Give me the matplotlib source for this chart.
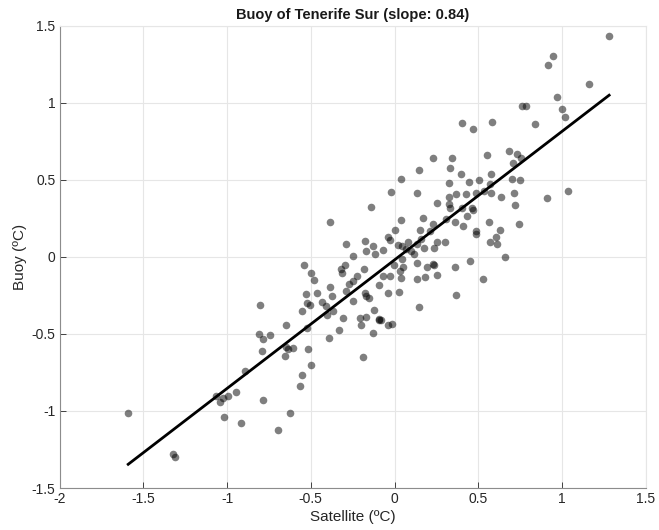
import matplotlib
matplotlib.use("Agg")
import matplotlib.pyplot as plt
import numpy as np

# ---------------------------------------------------------------------------
# Data
# ---------------------------------------------------------------------------

satellite = [
    -1.590, -0.893, -1.068, -1.042, -1.026, -0.993, -0.947, -0.784, -1.019, -0.919,
    -0.698, -1.321, -1.311, -0.554, -0.566, -0.626, -0.539, -0.501, -0.483, -0.246,
    -0.170, -0.115, -0.296, -0.321, -0.314, -0.226, -0.182, -0.274, -0.246, -0.290,
    -0.385, -0.465, -0.529, -0.375, -0.435, -0.521, -0.505, -0.411, -0.246, -0.178,
    -0.170, -0.154, -0.803, -0.553, -0.369, -0.405, -0.309, -0.122, -0.206, -0.172,
    -0.094, -0.202, -0.650, -0.524, -0.330, -0.127, -0.811, -0.784, -0.742, -0.393,
    -0.650, -0.634, -0.605, -0.515, -0.792, -0.652, -0.186, -0.499, -0.067, -0.030,
    0.033, 0.037, 0.133, 0.182, 0.252, 0.527, -0.094, -0.039, 0.029, 0.365,
    0.145, -0.090, -0.082, -0.039, -0.017, 0.228, 0.342, 0.332, 0.551, 0.148,
    0.395, 0.037, 0.327, 0.447, 0.507, -0.023, 0.136, 0.327, 0.367, 0.427,
    0.487, 0.535, -0.142, 0.256, 0.327, 0.332, 0.403, 0.461, 0.471, 0.435,
    0.563, 0.361, 0.407, 0.308, -0.385, 0.037, 0.172, 0.232, 0.005, 0.152,
    0.212, 0.485, 0.487, -0.290, -0.176, -0.130, -0.067, -0.037, -0.027, 0.023,
    0.043, 0.082, 0.099, 0.116, 0.136, 0.069, 0.176, 0.156, 0.236, 0.256,
    0.302, 0.451, 0.228, 0.236, 0.133, 0.192, 0.361, 0.043, -0.003, 0.053,
    0.915, 1.158, 0.969, 0.760, 0.786, 1.002, 1.019, 0.403, 0.584, 0.469,
    0.837, 0.686, 0.730, 0.710, 0.756, 0.578, 0.704, 0.746, 0.570, 0.575,
    0.716, 0.636, 0.909, 1.038, 0.720, 0.630, 0.740, 0.606, 0.570, 0.614,
    0.660, 1.281, 0.945,
]

buoy = [
    -1.012, -0.742, -0.904, -0.941, -0.919, -0.906, -0.880, -0.928, -1.038, -1.081,
    -1.122, -1.280, -1.296, -0.766, -0.841, -1.014, -0.052, -0.106, -0.153, 0.008,
    0.039, 0.017, -0.052, -0.080, -0.108, -0.123, -0.080, -0.177, -0.160, -0.224,
    -0.198, -0.235, -0.244, -0.257, -0.291, -0.300, -0.311, -0.322, -0.289, -0.237,
    -0.257, -0.270, -0.315, -0.350, -0.350, -0.375, -0.397, -0.345, -0.397, -0.393,
    -0.410, -0.445, -0.440, -0.462, -0.472, -0.492, -0.500, -0.531, -0.507, -0.526,
    -0.587, -0.600, -0.593, -0.600, -0.613, -0.643, -0.652, -0.699, -0.123, -0.123,
    -0.091, -0.138, -0.147, -0.129, -0.117, -0.142, -0.181, -0.237, -0.231, -0.250,
    -0.328, -0.405, -0.412, -0.442, -0.434, 0.639, 0.639, 0.578, 0.660, 0.561,
    0.535, 0.505, 0.481, 0.487, 0.496, 0.423, 0.412, 0.390, 0.410, 0.410,
    0.416, 0.427, 0.326, 0.348, 0.341, 0.319, 0.315, 0.319, 0.302, 0.265,
    0.227, 0.227, 0.203, 0.244, 0.227, 0.239, 0.254, 0.212, 0.177, 0.173,
    0.168, 0.168, 0.151, 0.082, 0.104, 0.071, 0.043, 0.129, 0.108, 0.078,
    0.071, 0.099, 0.039, 0.021, 0.082, 0.050, 0.054, 0.115, 0.060, 0.093,
    0.093, -0.026, -0.044, -0.050, -0.037, -0.069, -0.069, -0.015, -0.052, -0.069,
    1.247, 1.124, 1.038, 0.977, 0.977, 0.956, 0.908, 0.869, 0.874, 0.830,
    0.863, 0.686, 0.665, 0.610, 0.643, 0.535, 0.503, 0.498, 0.470, 0.416,
    0.416, 0.388, 0.384, 0.427, 0.337, 0.173, 0.212, 0.129, 0.099, 0.082,
    -0.004, 1.432, 1.301,
]

fit_slope = 0.834
fit_intercept = -0.02

title = "Buoy of Tenerife Sur (slope: 0.84)"
x_ticks = [-2, -1.5, -1, -0.5, 0, 0.5, 1, 1.5]
y_ticks = [-1.5, -1, -0.5, 0, 0.5, 1, 1.5]

# ---------------------------------------------------------------------------
# Style (MATLAB-like)
# ---------------------------------------------------------------------------

plt.rcParams.update({
    "font.family": ["Liberation Sans", "DejaVu Sans"],
    "font.size": 10,
    "axes.unicode_minus": False,
    "xtick.direction": "in",
    "ytick.direction": "in",
    "xtick.color": "#262626",
    "ytick.color": "#262626",
})

x = np.array(satellite)
y = np.array(buoy)

fig = plt.figure(figsize=(6.59, 5.30), dpi=100)
ax = fig.add_axes([0.0903, 0.0792, 0.8897, 0.8725])

ax.scatter(x, y, s=30, color="black", alpha=0.5, linewidths=0, zorder=3)

xl = np.array([x.min(), x.max()])
ax.plot(xl, fit_slope * xl + fit_intercept, color="black", linewidth=2.0, zorder=4)

ax.set_xlim(-2, 1.5)
ax.set_ylim(-1.5, 1.5)
ax.set_xticks(x_ticks)
ax.set_yticks(y_ticks)
ax.set_xticklabels([f"{t:g}" for t in x_ticks], fontsize=10)
ax.set_yticklabels([f"{t:g}" for t in y_ticks], fontsize=10)
ax.tick_params(length=4, width=0.6, top=False, right=False, pad=3)

ax.grid(True, color="#e6e6e6", linewidth=0.8, zorder=0)
ax.set_axisbelow(True)

for side in ["left", "bottom"]:
    ax.spines[side].set_color("#8c8c8c")
    ax.spines[side].set_linewidth(0.8)
for side in ["top", "right"]:
    ax.spines[side].set_color("#e6e6e6")
    ax.spines[side].set_linewidth(0.8)

ax.set_xlabel("Satellite (ºC)", fontsize=11, color="#262626", labelpad=3)
ax.set_ylabel("Buoy (ºC)", fontsize=11, color="#262626", labelpad=3)
ax.set_title(title, fontsize=10.5, fontweight="bold", color="#1a1a1a", pad=5)

fig.savefig("out.png", dpi=100)
